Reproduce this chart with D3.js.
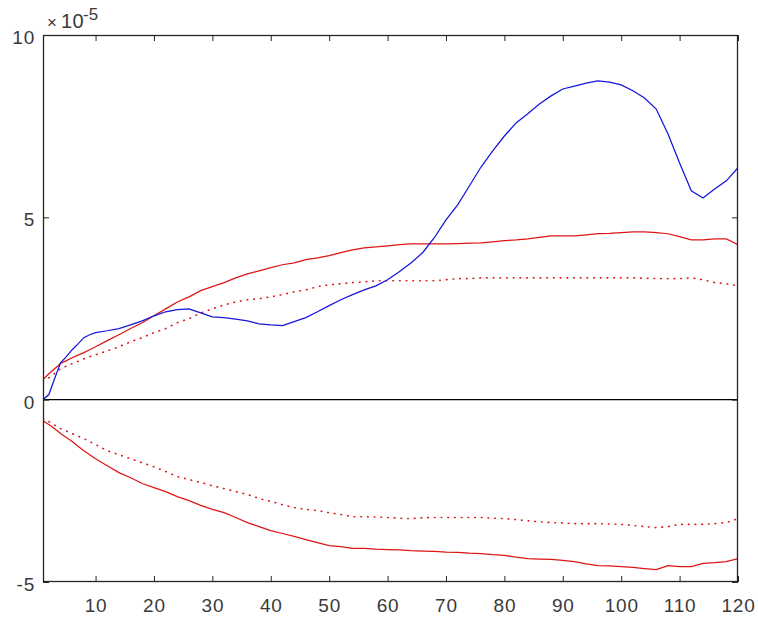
<!DOCTYPE html>
<html><head><meta charset="utf-8">
<script src="https://cdn.jsdelivr.net/npm/d3@7"></script>
<style>body{margin:0;background:#fff}svg{display:block}text{font-family:"Liberation Sans",Arial,sans-serif}</style>
</head><body>
<svg id="c" width="758" height="623"></svg>
<script>
// horizon (periods)
const xs = [1,2,3,4,5,6,7,8,9,10,12,14,16,18,20,22,24,26,28,30,32,34,36,38,40,42,44,46,48,50,52,54,56,58,60,62,64,66,68,70,72,74,76,78,80,82,84,86,88,90,92,94,96,98,100,102,104,106,108,110,112,114,116,118,120];
// impulse response (x1e-5)
const response = [0,0.14,0.58,1.01,1.18,1.37,1.53,1.70,1.78,1.84,1.89,1.95,2.05,2.16,2.30,2.41,2.47,2.49,2.38,2.27,2.25,2.21,2.16,2.08,2.05,2.03,2.14,2.25,2.41,2.58,2.74,2.88,3.01,3.12,3.29,3.51,3.75,4.03,4.44,4.93,5.34,5.86,6.38,6.82,7.23,7.59,7.84,8.11,8.33,8.52,8.60,8.68,8.74,8.71,8.63,8.47,8.27,7.97,7.29,6.49,5.73,5.53,5.78,6.00,6.36];
const upperSolid = [0.55,0.71,0.85,0.99,1.07,1.15,1.22,1.29,1.37,1.45,1.62,1.78,1.95,2.11,2.30,2.49,2.68,2.82,2.99,3.10,3.21,3.34,3.45,3.53,3.62,3.70,3.75,3.84,3.89,3.95,4.03,4.11,4.16,4.19,4.22,4.25,4.27,4.27,4.27,4.27,4.28,4.29,4.30,4.33,4.36,4.38,4.41,4.45,4.49,4.49,4.49,4.52,4.55,4.56,4.58,4.60,4.60,4.58,4.55,4.47,4.38,4.38,4.41,4.41,4.25];
const upperDotted = [0.50,0.60,0.72,0.85,0.92,0.99,1.05,1.12,1.18,1.23,1.34,1.45,1.59,1.70,1.84,1.95,2.11,2.22,2.38,2.49,2.60,2.68,2.74,2.77,2.82,2.88,2.96,3.01,3.10,3.15,3.18,3.21,3.23,3.26,3.26,3.26,3.26,3.26,3.26,3.29,3.32,3.32,3.34,3.34,3.34,3.34,3.34,3.34,3.34,3.34,3.34,3.34,3.34,3.34,3.34,3.34,3.33,3.32,3.32,3.32,3.34,3.29,3.21,3.18,3.12];
const lowerSolid = [-0.58,-0.68,-0.80,-0.93,-1.04,-1.15,-1.28,-1.40,-1.51,-1.62,-1.81,-2.00,-2.14,-2.30,-2.41,-2.52,-2.66,-2.77,-2.90,-3.01,-3.10,-3.23,-3.37,-3.48,-3.59,-3.67,-3.75,-3.84,-3.92,-4.00,-4.03,-4.08,-4.08,-4.10,-4.11,-4.12,-4.14,-4.15,-4.16,-4.18,-4.19,-4.21,-4.22,-4.25,-4.27,-4.32,-4.36,-4.37,-4.38,-4.41,-4.44,-4.50,-4.55,-4.56,-4.58,-4.60,-4.63,-4.66,-4.55,-4.58,-4.58,-4.49,-4.47,-4.44,-4.36];
const lowerDotted = [-0.52,-0.60,-0.70,-0.79,-0.86,-0.93,-1.00,-1.07,-1.15,-1.23,-1.40,-1.51,-1.62,-1.73,-1.84,-1.97,-2.11,-2.19,-2.27,-2.36,-2.44,-2.52,-2.60,-2.71,-2.79,-2.88,-2.96,-3.01,-3.04,-3.10,-3.15,-3.21,-3.21,-3.22,-3.23,-3.25,-3.26,-3.24,-3.23,-3.23,-3.23,-3.23,-3.23,-3.25,-3.26,-3.29,-3.32,-3.35,-3.37,-3.38,-3.40,-3.40,-3.40,-3.41,-3.42,-3.45,-3.48,-3.51,-3.48,-3.42,-3.42,-3.42,-3.40,-3.37,-3.26];
const zeroLine = xs.map(() => 0);
const xTicks = [10,20,30,40,50,60,70,80,90,100,110,120];
const yTicks = [-5,0,5,10];
const yTickLabels = ["-5","0","5","10"];
const xDomain = [1,120];
const yDomain = [-5,10];

const L = 43, R = 738, T = 35, B = 582;
const svg = d3.select("#c");
const x = d3.scaleLinear().domain(xDomain).range([L, R]);
const y = d3.scaleLinear().domain(yDomain).range([B, T]);
const axisCol = "#262626";
const txtCol = "#3a3a3a";

svg.append("defs").append("clipPath").attr("id","clp")
  .append("rect").attr("x",L).attr("y",T).attr("width",R-L).attr("height",B-T);
const plot = svg.append("g").attr("clip-path","url(#clp)");

const line = d3.line().x((d,i)=>x(xs[i])).y(d=>y(d));
function draw(arr, col, dash, w){
  plot.append("path").datum(arr).attr("d", line).attr("fill","none")
    .attr("stroke", col).attr("stroke-width", w||1.25)
    .attr("stroke-dasharray", dash||null).attr("stroke-linecap", dash ? "round" : "butt");
}
const red = "#dd1515", blue = "#1515dd";
draw(upperDotted, red, "0.6 6.1", 1.6);
draw(lowerDotted, red, "0.6 6.1", 1.6);
draw(upperSolid, red);
draw(lowerSolid, red);
draw(zeroLine, "#000", null, 1.3);
draw(response, blue);

// axes
const tl = 6;
const gB = svg.append("g").attr("transform",`translate(0,${B})`)
  .call(d3.axisBottom(x).tickValues(xTicks).tickSizeInner(-tl).tickSizeOuter(0).tickPadding(14).tickFormat(d=>String(d)));
const gT = svg.append("g").attr("transform",`translate(0,${T})`)
  .call(d3.axisTop(x).tickValues(xTicks).tickSizeInner(-tl).tickSizeOuter(0).tickFormat(""));
const gL = svg.append("g").attr("transform",`translate(${L},0)`)
  .call(d3.axisLeft(y).tickValues(yTicks).tickSizeInner(-tl).tickSizeOuter(0).tickPadding(8)
    .tickFormat((d,i)=>yTickLabels[i]));
const gR = svg.append("g").attr("transform",`translate(${R},0)`)
  .call(d3.axisRight(y).tickValues(yTicks).tickSizeInner(-tl).tickSizeOuter(0).tickFormat(""));
[gB,gT,gL,gR].forEach(g=>{
  g.select(".domain").remove();
  g.selectAll("line").attr("stroke",axisCol).attr("stroke-width",1);
  g.selectAll("text").attr("fill",txtCol).style("font-size","19px").style("letter-spacing","0.8px")
    .style("font-family","'Liberation Sans',Arial,sans-serif");
});
gB.selectAll("text").attr("dy","0.85em");
gL.selectAll("text").attr("dy","0.45em");
svg.append("rect").attr("x",L+0.5).attr("y",T+0.5).attr("width",R-L-1).attr("height",B-T-1)
  .attr("fill","none").attr("stroke",axisCol).attr("stroke-width",1.3);

// exponent label
const exFont = "'Liberation Sans',Arial,sans-serif";
svg.append("text").attr("x",47).attr("y",28).attr("fill",txtCol)
  .style("font-family",exFont).style("font-size","17px").text("\u00d7");
svg.append("text").attr("x",61).attr("y",28).attr("fill",txtCol)
  .style("font-family",exFont).style("font-size","20px").style("letter-spacing","0.5px").text("10");
svg.append("text").attr("x",83).attr("y",20).attr("fill",txtCol)
  .style("font-family",exFont).style("font-size","17px").text("-5");
</script>
</body></html>
